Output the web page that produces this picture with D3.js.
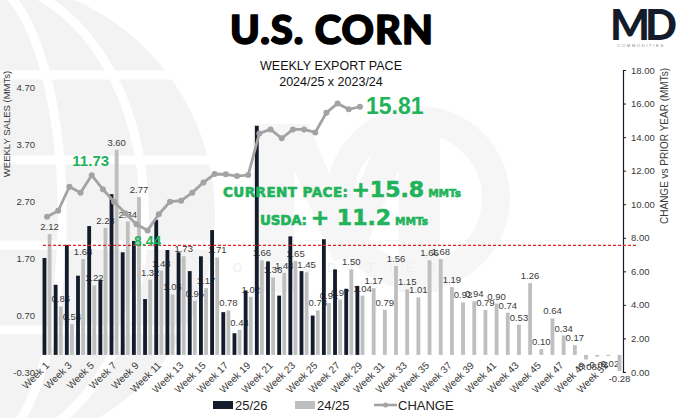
<!DOCTYPE html>
<html><head><meta charset="utf-8">
<script src="https://cdn.jsdelivr.net/npm/d3@7"></script>
<style>
html,body{margin:0;padding:0;background:#fff;}
svg{display:block;font-family:"Liberation Sans",Arial,sans-serif;}
</style></head>
<body><svg id="chart" width="680" height="418"></svg>
<script>
// ---- data ----
const weeks = d3.range(1, 53).map(i => "Week " + i);
const sales2526 = [1.70,1.23,1.93,1.39,2.26,1.32,2.82,1.80,2.00,0.98,
                   2.37,1.84,1.80,1.47,1.73,2.19,0.75,0.38,1.13,4.02,
                   1.64,1.04,2.08,1.47,0.69,2.03,1.50,1.16,1.21];
const sales2425 = [2.12,0.85,0.54,1.68,1.22,2.23,3.60,2.34,2.77,1.32,
                   1.48,1.06,1.73,0.95,1.17,1.71,0.78,0.44,1.02,1.66,
                   1.36,1.44,1.65,1.45,0.78,0.91,0.97,1.50,1.04,1.17,
                   0.79,1.56,1.15,1.01,1.66,1.68,1.19,0.92,0.94,0.79,
                   0.90,0.74,0.53,1.26,0.10,0.64,0.34,0.17,-0.08,-0.03,
                   -0.02,-0.28];
const change = [9.26,9.61,11.04,10.69,11.73,10.89,10.15,9.46,8.80,8.44,
                9.40,10.15,10.21,10.69,11.30,11.80,11.78,11.68,11.74,14.22,
                14.46,13.93,14.46,14.46,14.28,15.45,16.01,15.66,15.81];
const leftTicks = [-0.30, 0.70, 1.70, 2.70, 3.70, 4.70];
const rightTicks = [0, 2, 4, 6, 8, 10, 12, 14, 16, 18];
const xTickWeeks = weeks.filter((d, i) => i % 2 === 0);
const seriesNames = ["25/26", "24/25", "CHANGE"];
const refLineValue = 7.55;          // red dashed line, right axis units
const callouts = [{week: "Week 5", value: 11.73}, {week: "Week 10", value: 8.44}, {week: "Week 29", value: 15.81}];

// ---- setup ----
const svg = d3.select("#chart");
const W = 680, H = 418;
const green = "#22b35a", navy = "#141c2c", grey = "#bfbfbf", lineGrey = "#a3a3a3", txt = "#3a3a3a";

svg.append("rect").attr("width", W).attr("height", H).attr("fill", "#fff");

// background watermark: globe on the left
const wm = svg.append("g");
const defs = svg.append("defs");
defs.append("clipPath").attr("id", "globeClip").append("circle").attr("cx", -20).attr("cy", 215).attr("r", 235);
const globe = wm.append("g").attr("clip-path", "url(#globeClip)");
globe.append("circle").attr("cx", -20).attr("cy", 215).attr("r", 235).attr("fill", "#f3f3f3");
[0.35, 0.7].forEach(k => globe.append("ellipse").attr("cx", -20).attr("cy", 215)
  .attr("rx", 235 * k).attr("ry", 235).attr("fill", "none").attr("stroke", "#fff").attr("stroke-width", 9));
[-140, -55, 30, 115].forEach(dy => globe.append("line").attr("x1", -260).attr("x2", 260)
  .attr("y1", 215 + dy).attr("y2", 215 + dy).attr("stroke", "#fff").attr("stroke-width", 9));

// centre MD watermark
wm.append("text").attr("x", 232).attr("y", 292).attr("font-size", 230).attr("font-weight", 900)
  .attr("font-family", "'DejaVu Sans',sans-serif").attr("fill", "#f6f6f6").text("M");
wm.append("circle").attr("cx", 418).attr("cy", 198).attr("r", 78).attr("fill", "none")
  .attr("stroke", "#f6f6f6").attr("stroke-width", 28);
wm.append("text").attr("x", 330).attr("y", 272).attr("text-anchor", "middle").attr("font-size", 12)
  .attr("letter-spacing", 14).attr("fill", "#f0f0f0").text("COMMODITIES");

// ---- scales ----
const x0 = d3.scaleBand().domain(weeks).range([42, 622]).paddingInner(0.2).paddingOuter(0.05);
const x1 = d3.scaleBand().domain(seriesNames.slice(0, 2)).range([0, x0.bandwidth()]).paddingInner(0.25);
const yL = d3.scaleLinear().domain([-0.3, 4.7]).range([372, 87]);
const yR = d3.scaleLinear().domain([0, 18]).range([372, 70]);

// ---- titles ----
svg.append("text").attr("x", 332).attr("y", 44).attr("text-anchor", "middle")
  .attr("font-family", "Lato,'DejaVu Sans',sans-serif").attr("font-weight", 900)
  .attr("font-size", 40).attr("letter-spacing", 1).attr("fill", "#000")
  .attr("stroke", "#000").attr("stroke-width", 1.6).attr("stroke-linejoin", "round").text("U.S. CORN");
svg.append("text").attr("x", 331).attr("y", 70).attr("text-anchor", "middle")
  .attr("font-size", 12.5).attr("fill", "#111").text("WEEKLY EXPORT PACE");
svg.append("text").attr("x", 331).attr("y", 86).attr("text-anchor", "middle")
  .attr("font-size", 12.5).attr("fill", "#111").text("2024/25 x 2023/24");

// logo
svg.append("text").attr("x", 641).attr("y", 40).attr("text-anchor", "middle")
  .attr("font-family", "Lato,'DejaVu Sans',sans-serif").attr("font-weight", 900)
  .attr("font-size", 42).attr("letter-spacing", -5).attr("fill", navy).text("MD");
svg.append("text").attr("x", 641).attr("y", 47).attr("text-anchor", "middle")
  .attr("font-size", 4.2).attr("letter-spacing", 1.6).attr("fill", "#888").text("COMMODITIES");

// ---- axes ----
svg.append("g").selectAll("text").data(leftTicks).join("text")
  .attr("x", 35).attr("y", d => yL(d) + 3.5).attr("text-anchor", "end")
  .attr("font-size", 9.5).attr("fill", txt).text(d => d.toFixed(2));

const axR = svg.append("g").attr("transform", "translate(623,0)")
  .call(d3.axisRight(yR).tickValues(rightTicks).tickSize(3).tickPadding(5).tickFormat(d => d.toFixed(2)));
axR.select(".domain").attr("stroke", navy).attr("stroke-width", 1.2);
axR.selectAll(".tick line").attr("stroke", navy);
axR.selectAll(".tick text").attr("font-size", 9.5).attr("fill", txt).attr("font-family", "'Liberation Sans',Arial,sans-serif");

svg.append("text").attr("transform", "translate(10,124) rotate(-90)").attr("text-anchor", "middle")
  .attr("font-size", 9.5).attr("fill", txt).text("WEEKLY SALES (MMTs)");
svg.append("text").attr("transform", "translate(668,146) rotate(-90)").attr("text-anchor", "middle")
  .attr("font-size", 10).attr("fill", txt).text("CHANGE vs PRIOR YEAR (MMTs)");

// x tick labels
svg.append("g").selectAll("text").data(xTickWeeks).join("text")
  .attr("transform", d => `translate(${x0(d) + x0.bandwidth() / 2 + 3},${366}) rotate(-45)`)
  .attr("text-anchor", "end").attr("font-size", 10).attr("fill", txt).text(d => d);

// bar labels (24/25) drawn beneath the bars, as in the reference
svg.append("g").selectAll("text").data(sales2425).join("text")
  .attr("x", (d, i) => x0(weeks[i]) + x1("24/25") + x1.bandwidth() / 2)
  .attr("y", d => d >= 0 ? yL(d) - 4 : yL(d) + 11)
  .attr("text-anchor", "middle").attr("font-size", 9.5).attr("fill", txt)
  .text(d => d.toFixed(2));

// ---- bars ----
const gBars = svg.append("g");
gBars.selectAll("rect.b25").data(sales2425).join("rect")
  .attr("x", (d, i) => x0(weeks[i]) + x1("24/25")).attr("width", x1.bandwidth())
  .attr("y", d => yL(Math.max(0, d))).attr("height", d => Math.abs(yL(d) - yL(0)))
  .attr("fill", grey);
gBars.selectAll("rect.b26").data(sales2526).join("rect")
  .attr("x", (d, i) => x0(weeks[i]) + x1("25/26")).attr("width", x1.bandwidth())
  .attr("y", d => yL(Math.max(0, d))).attr("height", d => Math.abs(yL(d) - yL(0)))
  .attr("fill", navy);

// red dashed reference line
svg.append("line").attr("x1", 43).attr("x2", 636).attr("y1", yR(refLineValue)).attr("y2", yR(refLineValue))
  .attr("stroke", "#ec2028").attr("stroke-width", 1.4).attr("stroke-dasharray", "3,2");

// ---- change line ----
const cx = (d, i) => x0(weeks[i]) + x0.bandwidth() / 2;
svg.append("path").datum(change)
  .attr("d", d3.line().x(cx).y(d => yR(d)))
  .attr("fill", "none").attr("stroke", lineGrey).attr("stroke-width", 2.8);
svg.append("g").selectAll("circle").data(change).join("circle")
  .attr("cx", cx).attr("cy", d => yR(d)).attr("r", 3).attr("fill", lineGrey);

// callouts
const cw = w => x0(w) + x0.bandwidth() / 2;
svg.append("text").attr("x", cw(callouts[0].week) - 1).attr("y", yR(callouts[0].value) - 9)
  .attr("text-anchor", "middle").attr("font-size", 15).attr("font-weight", 700).attr("fill", green)
  .text(callouts[0].value.toFixed(2));
svg.append("text").attr("x", cw(callouts[1].week)).attr("y", 246)
  .attr("text-anchor", "middle").attr("font-size", 14).attr("font-weight", 700).attr("fill", green)
  .text(callouts[1].value.toFixed(2));
svg.append("text").attr("x", cw(callouts[2].week) + 6).attr("y", 114)
  .attr("font-size", 23).attr("font-weight", 700).attr("fill", green)
  .text(callouts[2].value.toFixed(2));

// pace annotations
const pace = svg.append("text").attr("x", 223).attr("y", 197).attr("fill", green)
  .attr("stroke", green).attr("stroke-width", 0.6)
  .attr("font-family", "'DejaVu Sans',sans-serif").attr("font-weight", 700);
pace.append("tspan").attr("font-size", 13.5).attr("textLength", 125).text("CURRENT PACE:");
pace.append("tspan").attr("font-size", 22).attr("dx", 3).text("+15.8");
pace.append("tspan").attr("font-size", 10.5).attr("dx", 4).text("MMTs");
const usda = svg.append("text").attr("x", 260).attr("y", 225).attr("fill", green)
  .attr("stroke", green).attr("stroke-width", 0.6)
  .attr("font-family", "'DejaVu Sans',sans-serif").attr("font-weight", 700);
usda.append("tspan").attr("font-size", 13.5).attr("textLength", 47).text("USDA:");
usda.append("tspan").attr("font-size", 22).attr("dx", 4).text("+ 11.2");
usda.append("tspan").attr("font-size", 10.5).attr("dx", 4).text("MMTs");

// ---- legend ----
const lg = svg.append("g").attr("font-size", 13).attr("fill", "#222");
lg.append("rect").attr("x", 213).attr("y", 401).attr("width", 20).attr("height", 8).attr("fill", navy);
lg.append("text").attr("x", 235).attr("y", 410).text(seriesNames[0]);
lg.append("rect").attr("x", 295).attr("y", 401).attr("width", 20).attr("height", 8).attr("fill", grey);
lg.append("text").attr("x", 317).attr("y", 410).text(seriesNames[1]);
lg.append("line").attr("x1", 374).attr("x2", 397).attr("y1", 405).attr("y2", 405).attr("stroke", lineGrey).attr("stroke-width", 2.6);
lg.append("circle").attr("cx", 385.5).attr("cy", 405).attr("r", 2.5).attr("fill", lineGrey);
lg.append("text").attr("x", 398).attr("y", 410).text(seriesNames[2]);
</script></body></html>
